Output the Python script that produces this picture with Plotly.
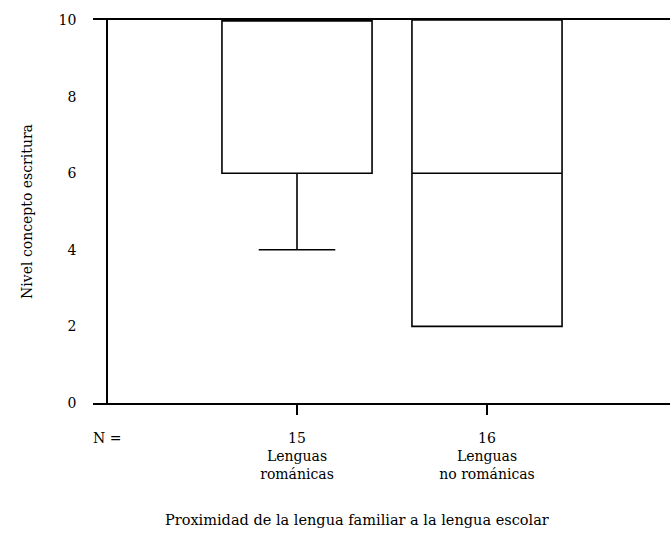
import plotly.graph_objects as go

categories = ["Lenguas<br>románicas", "Lenguas<br>no románicas"]
n_values = [15, 16]
q1 = [6, 2]
median = [10, 6]
q3 = [10, 10]
lower = [4, 2]
upper = [10, 10]
y_ticks = [0, 2, 4, 6, 8, 10]

FONT = "DejaVu Serif"
positions = [i + 1 for i in range(len(categories))]

fig = go.Figure()
for i, p in enumerate(positions):
    fig.add_trace(go.Box(
        x=[p], q1=[q1[i]], median=[median[i]], q3=[q3[i]],
        lowerfence=[lower[i]], upperfence=[upper[i]],
        width=0.79, whiskerwidth=0.51,
        fillcolor="rgba(255,255,255,0)",
        line=dict(color="black", width=1.6),
        boxpoints=False, showlegend=False, hoverinfo="skip",
    ))

fig.update_layout(
    width=670, height=539,
    margin=dict(l=93, r=0, t=20, b=136),
    plot_bgcolor="white", paper_bgcolor="white",
    font=dict(family=FONT, size=14, color="black"),
    xaxis=dict(
        range=[-14 / 190, 563 / 190],
        tickvals=positions,
        ticktext=[f"{n}<br>{c}" for n, c in zip(n_values, categories)],
        ticks="outside", ticklen=10, tickwidth=1.5, tickcolor="black",
        showline=True, linecolor="black", linewidth=2, mirror=True,
        showgrid=False, zeroline=False,
        ticklabelstandoff=11,
        tickfont=dict(family=FONT, size=14),
    ),
    yaxis=dict(
        range=[0, 10],
        tickvals=y_ticks,
        ticks="",
        showline=True, linecolor="black", linewidth=1.5,
        anchor="free", position=14 / 577,
        showgrid=False, zeroline=False,
        ticklabelstandoff=27,
        tickfont=dict(family=FONT, size=14),
        title=dict(text="Nivel concepto escritura", standoff=22,
                   font=dict(family=FONT, size=14)),
    ),
    annotations=[
        dict(text="N =", x=0, y=-(438 - 403) / 383, xref="x", yref="paper",
             showarrow=False, xanchor="center", yanchor="middle",
             font=dict(family=FONT, size=14)),
        dict(text="Proximidad de la lengua familiar a la lengua escolar",
             x=(357 - 93) / 577, y=-(520 - 403) / 383, xref="paper", yref="paper",
             showarrow=False, xanchor="center", yanchor="middle",
             font=dict(family=FONT, size=14.5)),
    ],
)

fig.write_html("out.html", config={"displayModeBar": False},
               post_script="document.body.style.margin='0';")
